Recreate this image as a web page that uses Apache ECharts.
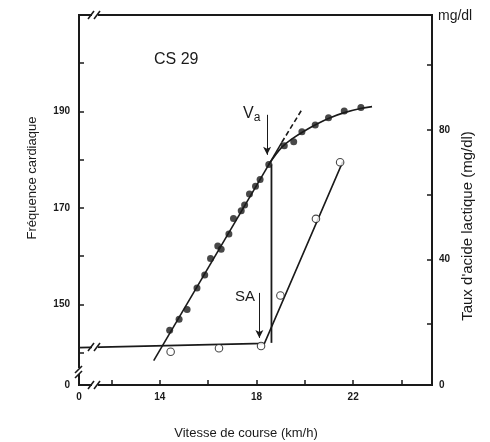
<!DOCTYPE html>
<html>
<head>
<meta charset="utf-8">
<script src="https://cdn.jsdelivr.net/npm/echarts@6/dist/echarts.min.js"></script>
<style>html,body{margin:0;padding:0;background:#fff;}#c{width:490px;height:442px;}</style>
</head>
<body>
<div id="c"></div>
<script>
// ---- data ----
var xRange = [10.66, 25.26];            // left edge represents broken axis "0"
var hrRange = [133.26, 210];
var lacRange = [1.14, 115.5];
var xTicks = [12, 14, 16, 18, 20, 22, 24];
var xLabels = [10.66, 14, 18, 22];
var hrTicks = [140, 150, 160, 170, 180, 190, 200];
var hrLabels = [133.26, 150, 170, 190];
var lacTicks = [20, 40, 60, 80, 100];
var lacLabels = [1.14, 40, 80];

var hrPoints = [
  [14.41, 144.6], [14.80, 146.9], [15.13, 148.9], [15.54, 153.4], [15.86, 156.1],
  [16.10, 159.5], [16.40, 162.1], [16.54, 161.4], [16.86, 164.6], [17.05, 167.8],
  [17.37, 169.4], [17.51, 170.6], [17.71, 172.9], [17.96, 174.5], [18.15, 175.9],
  [18.51, 179.0], [19.15, 182.9], [19.54, 183.7], [19.88, 185.8], [20.43, 187.2],
  [20.98, 188.7], [21.63, 190.1], [22.32, 190.8]
];
var lacPoints = [
  [14.45, 11.4], [16.45, 12.5], [18.19, 13.2], [18.99, 28.8], [20.46, 52.5], [21.46, 70.0]
];
var hrFitSolid = [[13.75, 138.3], [19.05, 183.6]];
var hrFitDashed = [[19.05, 183.6], [19.88, 190.4]];
var hrCurve = [
  [18.51, 179.0], [19.05, 182.6], [19.5, 184.4], [20.0, 186.0], [20.5, 187.4],
  [21.0, 188.6], [21.6, 189.7], [22.3, 190.6], [22.78, 191.0]
];
var vaDrop = [[18.62, 179.0], [18.62, 142.0]];
var lacLine = [[10.66, 12.7], [18.33, 14.0], [21.57, 70.2]];
var vaArrow = [[18.44, 189.3], [18.44, 181.0]];
var saArrow = [[18.12, 29.6], [18.12, 15.7]];

var ink = '#1a1a1a';
var chart = echarts.init(document.getElementById('c'));
var G = {left: 79, right: 432, top: 15, bottom: 385};

function brkH(cx, cy) { // break mark on a horizontal line
  return [
    {type: 'rect', shape: {x: cx - 3, y: cy - 3, width: 6, height: 6}, style: {fill: '#fff'}, z: 100},
    {type: 'line', shape: {x1: cx - 7, y1: cy + 4, x2: cx - 1, y2: cy - 4}, style: {stroke: ink, lineWidth: 1.6}, z: 101},
    {type: 'line', shape: {x1: cx - 1, y1: cy + 4, x2: cx + 5, y2: cy - 4}, style: {stroke: ink, lineWidth: 1.6}, z: 101}
  ];
}
function brkV(cx, cy) { // break mark on a vertical line
  return [
    {type: 'rect', shape: {x: cx - 3, y: cy - 3, width: 6, height: 6}, style: {fill: '#fff'}, z: 100},
    {type: 'line', shape: {x1: cx - 4, y1: cy + 2, x2: cx + 3, y2: cy - 5}, style: {stroke: ink, lineWidth: 1.6}, z: 101},
    {type: 'line', shape: {x1: cx - 4, y1: cy + 7, x2: cx + 3, y2: cy}, style: {stroke: ink, lineWidth: 1.6}, z: 101}
  ];
}

var labelStyle = {color: ink, fontFamily: 'Liberation Sans', fontWeight: 'bold', fontSize: 10};

var option = {
  animation: false,
  backgroundColor: '#fff',
  grid: {left: G.left, right: 490 - G.right, top: G.top, bottom: 442 - G.bottom, show: true,
         borderColor: ink, borderWidth: 2, backgroundColor: 'transparent'},
  xAxis: {
    type: 'value', min: xRange[0], max: xRange[1],
    axisLine: {show: true, lineStyle: {color: ink, width: 2}},
    splitLine: {show: false},
    axisTick: {show: true, inside: true, length: 5, lineStyle: {color: ink, width: 1.5}, customValues: xTicks},
    axisLabel: Object.assign({margin: 7, customValues: xLabels,
      formatter: function (v) { return v < 11 ? '0' : String(Math.round(v)); }}, labelStyle)
  },
  yAxis: [{
    type: 'value', min: hrRange[0], max: hrRange[1], position: 'left',
    axisLine: {show: true, lineStyle: {color: ink, width: 2}},
    splitLine: {show: false},
    axisTick: {show: true, inside: true, length: 5, lineStyle: {color: ink, width: 1.5}, customValues: hrTicks},
    axisLabel: Object.assign({margin: 9, customValues: hrLabels,
      formatter: function (v) { return v < 134 ? '0' : String(Math.round(v)); }}, labelStyle)
  }, {
    type: 'value', min: lacRange[0], max: lacRange[1], position: 'right',
    axisLine: {show: true, lineStyle: {color: ink, width: 2}},
    splitLine: {show: false},
    axisTick: {show: true, inside: true, length: 5, lineStyle: {color: ink, width: 1.5}, customValues: lacTicks},
    axisLabel: Object.assign({margin: 7, customValues: lacLabels,
      formatter: function (v) { return v < 2 ? '0' : String(Math.round(v)); }}, labelStyle)
  }],
  series: [
    {type: 'line', data: hrFitSolid, yAxisIndex: 0, symbol: 'none', lineStyle: {color: ink, width: 1.6}, z: 2},
    {type: 'line', data: hrFitDashed, yAxisIndex: 0, symbol: 'none', lineStyle: {color: ink, width: 1.6, type: [5, 3]}, z: 2},
    {type: 'line', data: hrCurve, yAxisIndex: 0, symbol: 'none', smooth: 0.4, lineStyle: {color: ink, width: 1.6}, z: 2},
    {type: 'line', data: vaDrop, yAxisIndex: 0, symbol: 'none', lineStyle: {color: ink, width: 1.8}, z: 2,
     markLine: {silent: true, symbol: ['none', 'arrow'], symbolSize: [6, 8], label: {show: false},
       lineStyle: {color: ink, width: 1, type: 'solid'},
       data: [[{coord: vaArrow[0]}, {coord: vaArrow[1]}]]}},
    {type: 'line', data: lacLine, yAxisIndex: 1, symbol: 'none', lineStyle: {color: ink, width: 1.6}, z: 2,
     markLine: {silent: true, symbol: ['none', 'arrow'], symbolSize: [6, 8], label: {show: false},
       lineStyle: {color: ink, width: 1, type: 'solid'},
       data: [[{coord: saArrow[0]}, {coord: saArrow[1]}]]}},
    {type: 'scatter', data: hrPoints, yAxisIndex: 0, symbol: 'circle', symbolSize: 7,
     itemStyle: {color: ink}, z: 5},
    {type: 'scatter', data: lacPoints, yAxisIndex: 1, symbol: 'circle', symbolSize: 7.5,
     itemStyle: {color: '#fff', borderColor: ink, borderWidth: 1.1}, z: 5}
  ],
  graphic: [].concat(
    brkH(95, G.top), brkH(95, G.bottom), brkH(95, 347), brkV(G.left, 371),
    [
      {type: 'text', x: 154, y: 60, style: {text: 'CS 29', fill: ink, font: '16px "Liberation Sans"', textVerticalAlign: 'middle'}, z: 110},
      {type: 'text', x: 243, y: 114, style: {text: '{v|V}{a|a}', rich: {v: {fontSize: 16, fill: ink, fontFamily: 'Liberation Sans'}, a: {fontSize: 12, fill: ink, fontFamily: 'Liberation Sans', padding: [8, 0, 0, 0]}}, textVerticalAlign: 'middle'}, z: 110},
      {type: 'text', x: 235, y: 297, style: {text: 'SA', fill: ink, font: '15px "Liberation Sans"', textVerticalAlign: 'middle'}, z: 110},
      {type: 'text', x: 438, y: 16, style: {text: 'mg/dl', fill: ink, font: '14px "Liberation Sans"', textVerticalAlign: 'middle'}, z: 110},
      {type: 'text', x: 32, y: 178, rotation: Math.PI / 2, style: {text: 'Fréquence cardiaque', fill: ink, font: '13px "Liberation Sans"', textAlign: 'center', textVerticalAlign: 'middle'}, z: 110},
      {type: 'text', x: 468, y: 226, rotation: Math.PI / 2, style: {text: "Taux d'acide lactique (mg/dl)", fill: ink, font: '15px "Liberation Sans"', textAlign: 'center', textVerticalAlign: 'middle'}, z: 110},
      {type: 'text', x: 246, y: 433, style: {text: 'Vitesse de course (km/h)', fill: ink, font: '13px "Liberation Sans"', textAlign: 'center', textVerticalAlign: 'middle'}, z: 110}
    ]
  )
};
chart.setOption(option);
</script>
</body>
</html>
